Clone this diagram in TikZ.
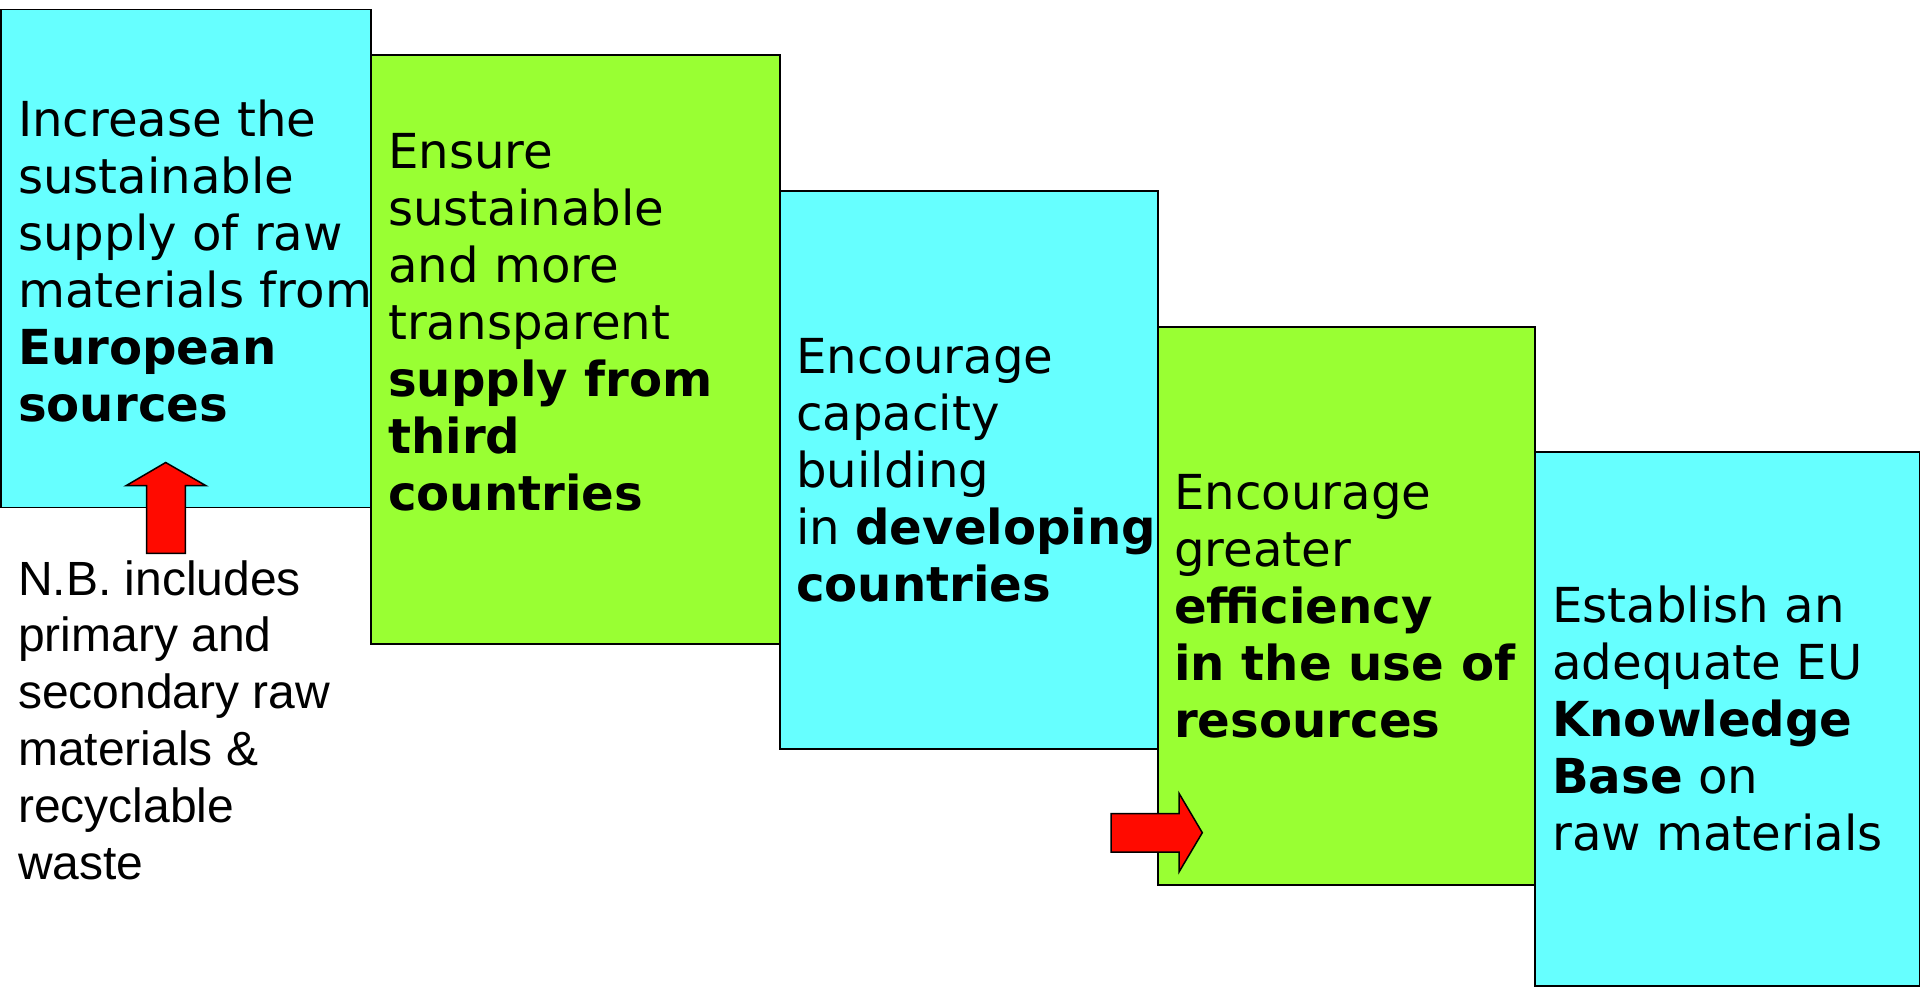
\documentclass[tikz,border=0pt]{standalone}
\usepackage{fontspec}
\setmainfont{DejaVu Sans}
\newfontfamily\arialfont{Liberation Sans}
\definecolor{boxcyan}{HTML}{66FFFF}
\definecolor{boxgreen}{HTML}{99FF33}
\definecolor{arrowred}{HTML}{FF0A00}
\begin{document}
\begin{tikzpicture}[x=1pt,y=-1pt,
  panel/.style={draw=black, line width=1.5pt, inner sep=0pt, anchor=north west},
  paneltext/.style={anchor=base west, inner sep=0pt, font=\fontsize{48.2pt}{57pt}\selectfont},
  notetext/.style={anchor=base west, inner sep=0pt, font=\arialfont\fontsize{48pt}{56.8pt}\selectfont},
  blockarrow/.style={draw=black, line width=1.5pt, fill=arrowred, line join=miter}
]
\useasboundingbox (0,0) rectangle (1920,986);
% boxes
\node[panel, fill=boxcyan, minimum width=370pt, minimum height=498pt] (b1) at (0,8.6) {};
\node[panel, fill=boxgreen, minimum width=409pt, minimum height=589pt] (b2) at (370,54) {};
\node[panel, fill=boxcyan, minimum width=378pt, minimum height=558pt] (b3) at (779,190) {};
\node[panel, fill=boxgreen, minimum width=377pt, minimum height=558pt] (b4) at (1157,326) {};
\node[panel, fill=boxcyan, minimum width=384.5pt, minimum height=534pt] (b5) at (1534,451) {};
% texts
\node[paneltext] (t1) at (18,136) {\begin{tabular}[t]{@{}l@{}}Increase the\\sustainable\\supply of raw\\materials from\\\textbf{European}\\\textbf{sources}\end{tabular}};
\node[paneltext] (t2) at (388,168) {\begin{tabular}[t]{@{}l@{}}Ensure\\sustainable\\and more\\transparent\\\textbf{supply from}\\\textbf{third}\\\textbf{countries}\end{tabular}};
\node[paneltext] (t3) at (796,373.5) {\begin{tabular}[t]{@{}l@{}}Encourage\\capacity\\building\\in \textbf{developing}\\\textbf{countries}\end{tabular}};
\node[paneltext] (t4) at (1174,509.4) {\begin{tabular}[t]{@{}l@{}}Encourage\\greater\\\textbf{efficiency}\\\textbf{in the use of}\\\textbf{resources}\end{tabular}};
\node[paneltext] (t5) at (1552,622) {\begin{tabular}[t]{@{}l@{}}Establish an\\adequate EU\\\textbf{Knowledge}\\\textbf{Base} on\\raw materials\end{tabular}};
\node[notetext] (nb) at (18,595) {\begin{tabular}[t]{@{}l@{}}N.B. includes\\primary and\\secondary raw\\materials \&\\recyclable\\waste\end{tabular}};
% block arrows
\draw[blockarrow] (146.7,553.3) -- (146.7,485.7) -- (126,485.7) -- (165.7,462.5) -- (206,485.7) -- (185.3,485.7) -- (185.3,553.3) -- cycle;
\draw[blockarrow] (1111,813.7) -- (1179,813.7) -- (1179,793.3) -- (1202.3,832.7) -- (1179,872) -- (1179,852) -- (1111,852) -- cycle;
\end{tikzpicture}
\end{document}
